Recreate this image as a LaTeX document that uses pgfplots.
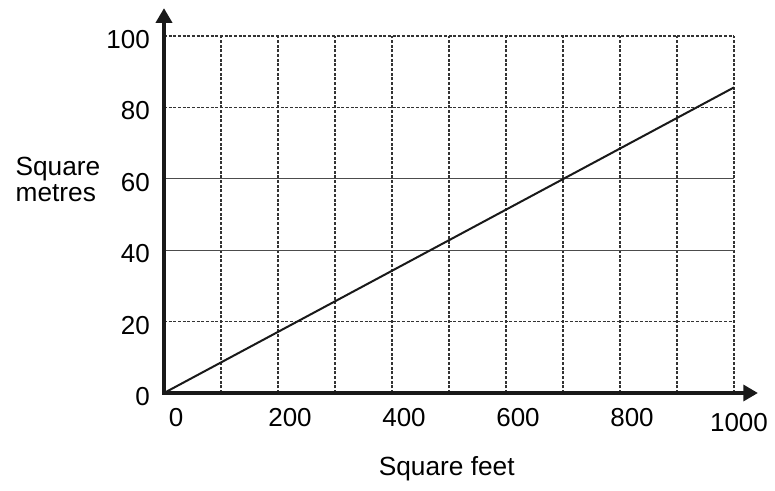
\documentclass[border=0pt]{standalone}
\usepackage{fontspec}
\setmainfont{Liberation Sans}
\usepackage{pgfplots}
\pgfplotsset{compat=1.18}
\usetikzlibrary{arrows.meta}

% 1 px of the reference = 0.75pt
\begin{document}
\begin{tikzpicture}
\begin{axis}[
    scale only axis,
    width=427.5pt, height=267.75pt,
    xmin=0, xmax=1000, ymin=0, ymax=100,
    clip=false,
    axis line style={draw=none},
    major tick length=0pt, minor tick length=0pt,
    xtick={0,200,...,800},
    minor xtick={100,300,...,900},
    extra x ticks={1000},
    extra x tick style={grid=major, xticklabel style={xshift=-5.25pt, yshift=-3.75pt}},
    ytick={0,20,80,100},
    extra y ticks={40,60},
    extra y tick style={grid=major, major grid style={solid, black!70, line width=0.8pt}},
    xmajorgrids, xminorgrids, ymajorgrids,
    major grid style={black!80, line width=0.8pt, dash pattern=on 2.2pt off 1.3pt},
    minor grid style={black!80, line width=0.8pt, dash pattern=on 2.2pt off 1.3pt},
    /pgf/number format/assume math mode=true,
    /pgf/number format/1000 sep={},
    ticklabel style={font=\fontsize{19.5}{20}\selectfont, inner sep=0pt},
    xticklabel style={anchor=center, xshift=9pt, yshift=-18.75pt},
    yticklabel style={anchor=east, xshift=-10.5pt, yshift=-2.6pt},
    xlabel={Square feet},
    xlabel style={font=\fontsize{19.7}{20.5}\selectfont, at={(axis description cs:0.496,-0.213)}, anchor=center},
    ylabel={Square\\metres},
    ylabel style={font=\fontsize{19.7}{19.5}\selectfont, rotate=-90, align=left, at={(axis description cs:-0.186,0.597)}, anchor=center},
]
\addplot[black!90, line width=1.5pt] coordinates {(0,0) (1000,85.6)};
\draw[black!90, line width=2.6pt, miter limit=4, {Triangle[length=11pt,width=12pt]}-{Triangle[length=11pt,width=12pt]}]
    (axis cs:0,107.8) -- (axis cs:0,0) -- (axis cs:1042,0);
\end{axis}
\path[use as bounding box] (-123pt,-72.75pt) rectangle (458.25pt,294.75pt);
\end{tikzpicture}
\end{document}
